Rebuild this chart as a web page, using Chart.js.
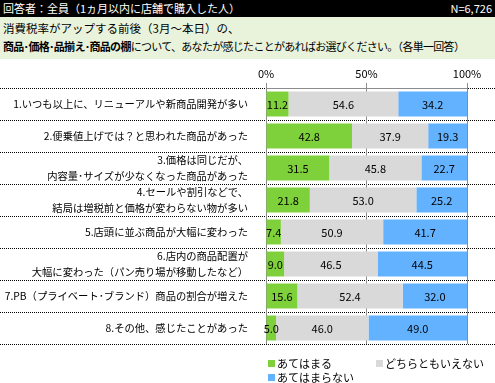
<!DOCTYPE html>
<html><head><meta charset="utf-8">
<script src="https://cdn.jsdelivr.net/npm/chart.js@4"></script>
<style>
html,body{margin:0;padding:0;background:#fff;}
#wrap{position:relative;width:495px;height:383px;overflow:hidden;font-family:"Noto Sans CJK JP",sans-serif;}
canvas{position:absolute;left:0;top:0;}
#hdr{position:absolute;left:0;top:0;width:495px;height:17px;background:#000;color:#fff;font-size:11px;line-height:17px;}
#hdr .l{position:absolute;left:3px;top:0;white-space:nowrap;}
#hdr .r{position:absolute;right:3px;top:0;white-space:nowrap;}
#q{position:absolute;left:0;top:17px;width:495px;height:42px;background:#E9F3DC;color:#000;font-size:11px;}
#q div{position:absolute;left:3px;white-space:nowrap;line-height:16px;}
#q .l1{font-size:11.5px;}
#q .l2{letter-spacing:-0.7px;}
#q b{font-weight:bold;}
</style>
</head><body>
<div id="wrap">
<canvas id="c" width="495" height="383"></canvas>
<div id="hdr"><span class="l">回答者：全員（1ヵ月以内に店舗で購入した人）</span><span class="r">N=6,726</span></div>
<div id="q"><div class="l1" style="top:3px">消費税率がアップする前後（3月～本日）の、</div><div class="l2" style="top:21px"><b>商品･価格･品揃え･商品の棚</b>について、あなたが感じたことがあればお選びください。（各単一回答）</div></div>
</div>
<script>
const categories = [
  '1.いつも以上に、リニューアルや新商品開発が多い',
  '2.便乗値上げでは？と思われた商品があった',
  ['3.価格は同じだが、', '内容量･サイズが少なくなった商品があった'],
  ['4.セールや割引などで、', '結局は増税前と価格が変わらない物が多い'],
  '5.店頭に並ぶ商品が大幅に変わった',
  ['6.店内の商品配置が', '大幅に変わった（パン売り場が移動したなど）'],
  '7.PB（プライベート･ブランド）商品の割合が増えた',
  '8.その他、感じたことがあった'
];
const seriesNames = ['あてはまる', 'どちらともいえない', 'あてはまらない'];
const applies    = [11.2, 42.8, 31.5, 21.8, 7.4, 9.0, 15.6, 5.0];
const neutral    = [54.6, 37.9, 45.8, 53.0, 50.9, 46.5, 52.4, 46.0];
const notApplies = [34.2, 19.3, 22.7, 25.2, 41.7, 44.5, 32.0, 49.0];
const tickValues = [0, 50, 100];
const tickLabels = ['0%', '50%', '100%'];

const FONT = '"Noto Sans CJK JP", sans-serif';
const colors = ['#7FD13B', '#D9D9D9', '#63B2FF'];

const dottedRows = {
  id: 'dottedRows',
  beforeDraw(chart) {
    const ys = chart.scales.y, ctx = chart.ctx;
    ctx.save();
    ctx.fillStyle = '#000';
    for (let i = 0; i <= categories.length; i++) {
      const py = Math.round(ys.getPixelForValue(i - 0.5));
      for (let px = 0; px < chart.width; px += 2) ctx.fillRect(px, py, 1, 1);
    }
    ctx.restore();
  }
};

const valueLabels = {
  id: 'valueLabels',
  afterDatasetsDraw(chart) {
    const ctx = chart.ctx;
    ctx.save();
    ctx.font = '11px ' + FONT;
    ctx.fillStyle = '#000';
    ctx.textAlign = 'center';
    ctx.textBaseline = 'middle';
    chart.data.datasets.forEach((ds, di) => {
      chart.getDatasetMeta(di).data.forEach((el, i) => {
        const p = el.getProps(['x', 'base', 'y'], true);
        ctx.fillText(ds.data[i].toFixed(1), (p.x + p.base) / 2, p.y + 1);
      });
    });
    ctx.restore();
  }
};

const customLegend = {
  id: 'customLegend',
  afterDraw(chart) {
    const ctx = chart.ctx, a = chart.chartArea;
    ctx.save();
    ctx.font = '11px ' + FONT;
    ctx.textBaseline = 'middle';
    ctx.textAlign = 'left';
    const x0 = a.left + 2, y0 = a.bottom + 19, colW = 108, rowH = 14;
    chart.data.datasets.forEach((ds, i) => {
      const x = x0 + (i % 2) * colW, y = y0 + Math.floor(i / 2) * rowH;
      ctx.fillStyle = ds.backgroundColor;
      ctx.fillRect(x, y - 3, 7, 7);
      ctx.fillStyle = '#000';
      ctx.fillText(ds.label, x + 9, y + 1);
    });
    ctx.restore();
  }
};

new Chart(document.getElementById('c'), {
  type: 'bar',
  data: {
    labels: categories,
    datasets: [
      { label: seriesNames[0], data: applies, backgroundColor: colors[0] },
      { label: seriesNames[1], data: neutral, backgroundColor: colors[1] },
      { label: seriesNames[2], data: notApplies, backgroundColor: colors[2] }
    ]
  },
  options: {
    responsive: false,
    animation: false,
    indexAxis: 'y',
    datasets: { bar: { barPercentage: 0.78, categoryPercentage: 1.0, borderWidth: 0 } },
    layout: { padding: { left: 0, right: 28, top: 60, bottom: 39 } },
    plugins: { legend: { display: false }, tooltip: { enabled: false } },
    scales: {
      x: {
        position: 'top', stacked: true, min: 0, max: 100,
        afterBuildTicks: s => { s.ticks = tickValues.map(v => ({ value: v })); },
        afterFit: s => { s.height = 28; },
        ticks: { callback: (v, i) => tickLabels[i], font: { size: 11, family: FONT }, color: '#000', padding: 3, maxRotation: 0, autoSkip: false },
        grid: { color: '#8C8C8C', tickLength: 5, drawOnChartArea: true },
        border: { display: true, color: '#8C8C8C' }
      },
      y: {
        stacked: true,
        afterFit: s => { s.width = 266; },
        ticks: { font: { size: 10.3, family: FONT, lineHeight: 1.55 }, color: '#000', padding: 18, autoSkip: false },
        grid: { display: false, drawTicks: false },
        border: { display: false }
      }
    }
  },
  plugins: [dottedRows, valueLabels, customLegend]
});
</script>
</body></html>
